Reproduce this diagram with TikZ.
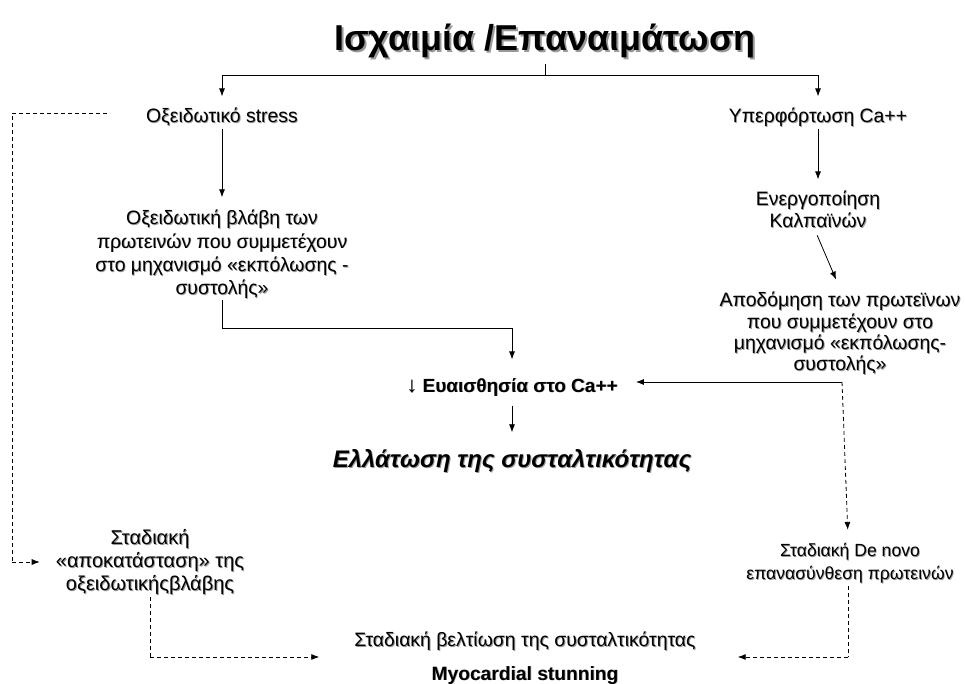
\documentclass[tikz,border=0pt]{standalone}
\usepackage{fontspec}
\setmainfont{Liberation Sans}
\usetikzlibrary{arrows.meta,calc}
\newcommand{\shdbody}[2]{\leavevmode\rlap{\kern#1\raisebox{-#1}{\color{black!40}\begin{tabular}{@{}c@{}}#2\end{tabular}}}\begin{tabular}{@{}c@{}}#2\end{tabular}}
\newcommand{\shd}[2][1pt]{\raisebox{-3pt}[\height][\depth]{\shdbody{#1}{#2}}}
\begin{document}
\begin{tikzpicture}[x=1pt,y=-1pt,
  txt/.style={inner sep=0pt, align=center, font=\fontsize{19.4}{22}\selectfont},
  ln/.style={line width=0.8pt, draw=black},
  arr/.style={ln, -{Latex[length=8pt,width=6pt]}},
  darr/.style={arr, dash pattern=on 4pt off 3pt},
  dln/.style={ln, dash pattern=on 4pt off 3pt},
]
\useasboundingbox (0,0) rectangle (965,684);
% title
\node[inner sep=0pt, font=\fontsize{36}{42}\selectfont\bfseries] (title) at (545,40) {\shd[2pt]{Ισχαιμία /Επαναιμάτωση}};
% nodes
\node[txt] (n1) at (222,116) {\shd[0.8pt]{Οξειδωτικό stress}};
\node[txt] (n2) at (818,116) {\shd[0.8pt]{Υπερφόρτωση Ca++}};
\node[txt, font=\fontsize{19.4}{23.3}\selectfont] (n3) at (222,252.5) {\shd[0.8pt]{Οξειδωτική βλάβη των\\πρωτεινών που συμμετέχουν\\στο μηχανισμό «εκπόλωσης -\\συστολής»}};
\node[txt] (n4) at (818,210) {\shd[0.8pt]{Ενεργοποίηση\\Καλπαϊνών}};
\node[txt, font=\fontsize{19.4}{21.3}\selectfont] (n5) at (840,332) {\shd[0.9pt]{Αποδόμηση των πρωτεϊνων\\που συμμετέχουν στο\\μηχανισμό «εκπόλωσης-\\συστολής»}};
\node[txt, font=\fontsize{19}{22}\selectfont\bfseries] (n6) at (512,385) {\shd[0.8pt]{{\mdseries\fontsize{22}{22}\selectfont ↓} Ευαισθησία στο Ca++}};
\node[txt, font=\fontsize{24}{28}\selectfont\bfseries\itshape] (n7) at (512,459) {\shd[1pt]{Ελλάτωση της συσταλτικότητας}};
\node[txt, font=\fontsize{20}{23}\selectfont] (n8) at (150,560) {\shd[1pt]{Σταδιακή\\«αποκατάσταση» της\\οξειδωτικήςβλάβης}};
\node[txt, font=\fontsize{17.6}{23}\selectfont] (n9) at (850,560.5) {\shd[0.8pt]{Σταδιακή De novo\\επανασύνθεση πρωτεινών}};
\node[txt, font=\fontsize{19.4}{22}\selectfont] (n10) at (525,640) {\shd[1pt]{Σταδιακή βελτίωση της συσταλτικότητας}};
\node[txt, font=\fontsize{19.2}{22}\selectfont\bfseries] (n11) at (525,673) {\shd[0.8pt]{Myocardial stunning}};
% junctions
\coordinate (j0) at (545,75);
\coordinate (j1) at (222,328);
\coordinate (h5) at (842,382);
\coordinate (d1) at (12,113);
\coordinate (d2) at (12,562);
\coordinate (d3) at (150,657);
\coordinate (d4) at (848,657);
% solid connectors
\draw[ln, shorten <=2pt] (title.south) -- (j0);
\draw[arr, shorten >=8pt] (j0) -| (n1.north);
\draw[arr, shorten >=8pt] (j0) -| (n2.north);
\draw[arr, shorten <=1pt, shorten >=8pt] (n1.south) -- (n3.north);
\draw[arr, shorten <=1pt, shorten >=8pt] (n2.south) -- (n4.north);
\draw[ln] (n3.south) -- (j1);
\draw[arr, shorten >=14pt] (j1) -| (n6.north);
\draw[arr, shorten <=3pt, shorten >=10pt] ($(n4.south)+(-2,0)$) -- ($(n5.north)+(0,0)$);
\draw[arr, shorten >=18pt] (h5) -- (h5 -| n6.east);
\draw[arr, shorten <=9pt, shorten >=12pt] (n6.south) -- (n7.north);
% dashed connectors
\draw[dln] ($(n1.west)+(-39,-3)$) -- (d1) -- (d2);
\draw[darr] (d2) -- ($(d2 -| n8.west)+(-16,0)$);
\draw[darr, shorten >=7pt] (h5) -- ($(n9.north)+(-2,0)$);
\draw[dln, shorten <=2pt] (n8.south) -- (d3);
\draw[darr] (d3) -- ($(d3 -| n10.west)+(-35,0)$);
\draw[dln, shorten <=2pt] (n9.south -| d4) -- (d4);
\draw[darr] (d4) -- ($(d4 -| n10.east)+(42,0)$);
\end{tikzpicture}
\end{document}
